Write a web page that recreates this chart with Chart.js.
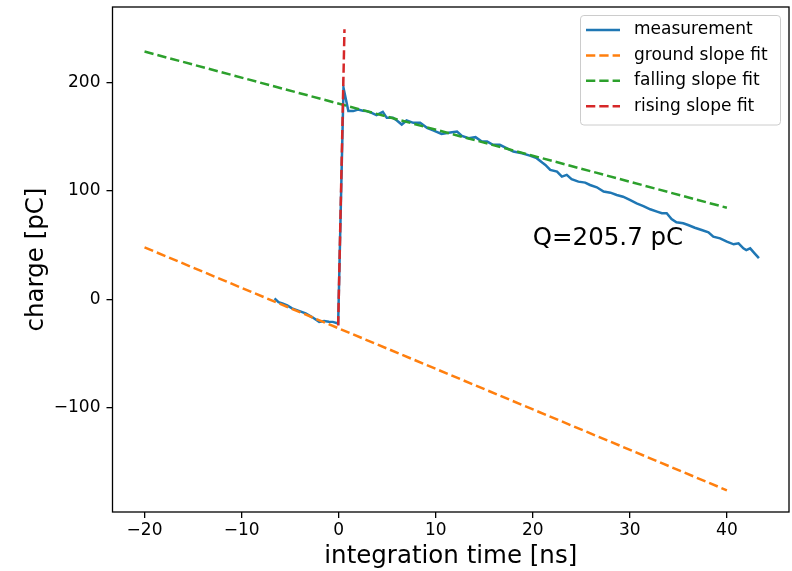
<!DOCTYPE html>
<html>
<head>
<meta charset="utf-8">
<script src="https://cdn.jsdelivr.net/npm/chart.js@4.4.1/dist/chart.umd.min.js"></script>
<style>
  html, body { margin: 0; padding: 0; background: #ffffff; }
  canvas { display: block; }
</style>
</head>
<body>
<canvas id="chart" width="792" height="571"></canvas>
<script>
// Integrated charge of one pulse versus integration time
const timeNs = [
  -6.6, -6.2, -5.8, -5.3, -4.8, -4.1, -3.4, -2.7, -2.0, -1.5, -1.0, -0.6, -0.05,
  0.5, 1.0, 1.5, 2.0, 2.5, 2.9, 3.4, 3.9, 4.55, 4.96, 5.6, 6.0, 6.5, 7.0, 7.7, 8.4,
  9.1, 9.8, 10.6, 11.5, 12.2, 12.7, 13.4, 14.1, 14.75, 15.3, 15.9, 16.6, 17.3, 18.0,
  18.9, 19.7, 20.4, 21.0, 21.3, 21.8, 22.5, 23.0, 23.5, 24.0, 24.7, 25.4, 25.9, 26.6,
  27.3, 28.0, 28.65, 29.3, 30.0, 30.7, 31.4, 32.1, 32.8, 33.3, 33.8, 34.3, 34.8, 35.5,
  36.0, 36.7, 37.4, 38.1, 38.6, 39.3, 40.0, 40.7, 41.2, 41.7, 42.0, 42.4, 42.9, 43.3
];
const chargePc = [
  0.9, -2.5, -3.7, -5.5, -8.3, -10.5, -12.9, -16.5, -20.7, -20.0, -20.5, -20.7, -22.2,
  195, 173.6, 173.6, 175, 174, 173.6, 172, 169.9, 172.9, 167.4, 167.4, 165, 161.2, 165, 162.8, 162.8,
  158.2, 155.7, 152.6, 153.8, 154.8, 150.8, 148.7, 149.6, 145.5, 145.5, 142.5, 142.5, 139.4, 136.3,
  134.8, 132.6, 130.2, 126, 124, 119.4, 117.8, 113.2, 114.8, 110.8, 108.6, 107.7, 105.5, 103.4,
  99.4, 98.4, 96.3, 94.7, 91.7, 88.6, 86.1, 83.1, 80.9, 79.4, 79.4, 74.1, 71.1, 70.2,
  68.6, 66.1, 64.0, 61.9, 57.8, 56.3, 53.2, 50.8, 51.7, 47.1, 45.5, 47.1, 42, 38
];

// Linear fits (end points of each fitted segment)
const groundFitT = [-20, 40];
const groundFitQ = [48, -176];
const fallingFitT = [-20, 40];
const fallingFitQ = [228.5, 84.5];
const risingFitT = [-0.05, 0.6];
const risingFitQ = [-24, 249];

// Extracted pulse charge and where its label sits
const chargeQ = 205.7;
const chargeLabelT = 20;
const chargeLabelQ = 50;

const xTicks = [-20, -10, 0, 10, 20, 30, 40];
const yTicks = [-100, 0, 100, 200];

const seriesNames = ['measurement', 'ground slope fit', 'falling slope fit', 'rising slope fit'];

const toPoints = (xs, ys) => xs.map((x, i) => ({ x: x, y: ys[i] }));
const minusSign = v => String(v).replace('-', '\u2212');

const FONT = 'DejaVu Sans';

// Boxed axes frame, the charge label and the legend
const decorations = {
  id: 'decorations',
  afterDatasetsDraw(chart) {
    const { ctx, chartArea: a, scales } = chart;
    ctx.save();
    // frame
    ctx.strokeStyle = '#000000';
    ctx.lineWidth = 1.3;
    ctx.strokeRect(a.left, a.top, a.right - a.left, a.bottom - a.top);

    // charge annotation
    ctx.fillStyle = '#000000';
    ctx.font = '24.5px "' + FONT + '"';
    ctx.textAlign = 'left';
    ctx.textBaseline = 'alphabetic';
    ctx.fillText('Q=' + chargeQ.toFixed(1) + ' pC',
      scales.x.getPixelForValue(chargeLabelT), scales.y.getPixelForValue(chargeLabelQ));

    // legend
    const bw = 200, bh = 109.5;
    const bx = a.right - 8.5 - bw, by = a.top + 8.5;
    const r = 3.4;
    ctx.beginPath();
    ctx.moveTo(bx + r, by);
    ctx.lineTo(bx + bw - r, by);
    ctx.arcTo(bx + bw, by, bx + bw, by + r, r);
    ctx.lineTo(bx + bw, by + bh - r);
    ctx.arcTo(bx + bw, by + bh, bx + bw - r, by + bh, r);
    ctx.lineTo(bx + r, by + bh);
    ctx.arcTo(bx, by + bh, bx, by + bh - r, r);
    ctx.lineTo(bx, by + r);
    ctx.arcTo(bx, by, bx + r, by, r);
    ctx.closePath();
    ctx.fillStyle = 'rgba(255,255,255,0.8)';
    ctx.fill();
    ctx.strokeStyle = '#cccccc';
    ctx.lineWidth = 1;
    ctx.stroke();

    ctx.font = '17px "' + FONT + '"';
    ctx.textBaseline = 'middle';
    chart.data.datasets.forEach((ds, i) => {
      const y = by + 14.5 + i * 25.4;
      const hx = bx + 5.5;
      ctx.beginPath();
      ctx.strokeStyle = ds.borderColor;
      ctx.lineWidth = ds.borderWidth;
      ctx.lineCap = 'butt';
      ctx.setLineDash(ds.borderDash || []);
      ctx.moveTo(hx, y);
      ctx.lineTo(hx + 34, y);
      ctx.stroke();
      ctx.setLineDash([]);
      ctx.fillStyle = '#000000';
      ctx.fillText(ds.label, hx + 34 + 14, y);
    });
    ctx.restore();
  }
};

const dash = [9.3, 4];

new Chart(document.getElementById('chart'), {
  type: 'line',
  data: {
    datasets: [
      { label: seriesNames[0], data: toPoints(timeNs, chargePc), borderColor: '#1f77b4',
        borderWidth: 2.5, pointRadius: 0, tension: 0, order: 3 },
      { label: seriesNames[1], data: toPoints(groundFitT, groundFitQ), borderColor: '#ff7f0e',
        borderWidth: 2.5, borderDash: dash, pointRadius: 0, order: 2 },
      { label: seriesNames[2], data: toPoints(fallingFitT, fallingFitQ), borderColor: '#2ca02c',
        borderWidth: 2.5, borderDash: dash, pointRadius: 0, order: 1 },
      { label: seriesNames[3], data: toPoints(risingFitT, risingFitQ), borderColor: '#d62728',
        borderWidth: 2.5, borderDash: dash, pointRadius: 0, order: 0 }
    ]
  },
  options: {
    responsive: false,
    animation: false,
    devicePixelRatio: 1,
    layout: { padding: { left: 0, right: 3, top: 7, bottom: 0 } },
    plugins: { legend: { display: false }, tooltip: { enabled: false } },
    scales: {
      x: {
        type: 'linear',
        min: -23.3,
        max: 46.4,
        afterFit: s => { s.height = 59; s.paddingLeft = 0; s.paddingRight = 0; },
        afterBuildTicks: s => { s.ticks = xTicks.map(v => ({ value: v })); },
        border: { display: false },
        grid: { drawOnChartArea: false, drawTicks: true, tickLength: 6, tickColor: '#000000', lineWidth: 1.3 },
        ticks: { color: '#000000', padding: 2, maxRotation: 0,
          font: { family: FONT, size: 17 }, callback: v => minusSign(v) },
        title: { display: true, text: 'integration time [ns]', color: '#000000',
          font: { family: FONT, size: 24.5 }, padding: { top: 0, bottom: 0 } }
      },
      y: {
        type: 'linear',
        min: -196,
        max: 269.6,
        afterFit: s => { s.width = 112.5; s.paddingTop = 0; s.paddingBottom = 0; },
        afterBuildTicks: s => { s.ticks = yTicks.map(v => ({ value: v })); },
        border: { display: false },
        grid: { drawOnChartArea: false, drawTicks: true, tickLength: 6, tickColor: '#000000', lineWidth: 1.3 },
        ticks: { color: '#000000', padding: 6,
          font: { family: FONT, size: 17 }, callback: v => minusSign(v) },
        title: { display: true, text: 'charge [pC]', color: '#000000',
          font: { family: FONT, size: 24.5 }, padding: { top: 22, bottom: 0 } }
      }
    }
  },
  plugins: [decorations]
});
</script>
</body>
</html>
